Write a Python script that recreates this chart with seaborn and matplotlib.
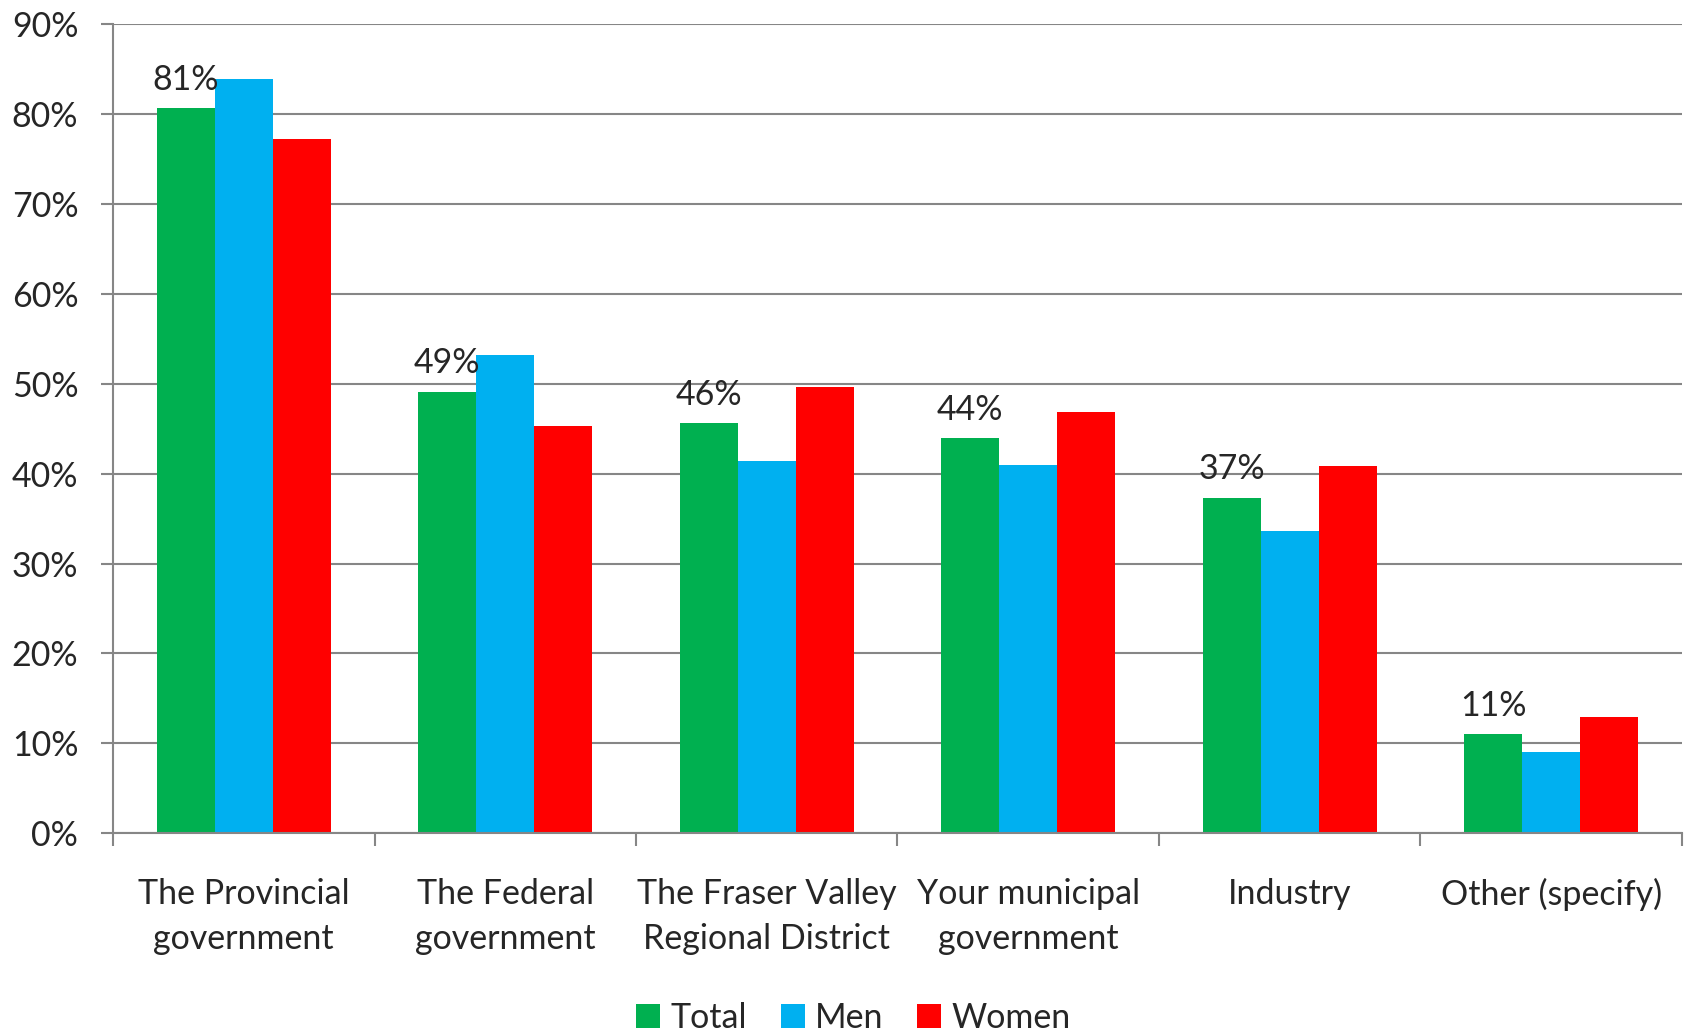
import pandas as pd
import numpy as np
import seaborn as sns
import matplotlib.pyplot as plt
from matplotlib.ticker import PercentFormatter, FixedLocator

# values (percent)
categories = ["The Provincial\ngovernment", "The Federal\ngovernment",
              "The Fraser Valley\nRegional District", "Your municipal\ngovernment",
              "Industry", "Other (specify)"]
total = [80.6, 49.1, 45.6, 43.9, 37.3, 11.0]
men = [83.9, 53.2, 41.4, 40.9, 33.6, 9.0]
women = [77.2, 45.3, 49.6, 46.8, 40.8, 12.9]
total_labels = ["81%", "49%", "46%", "44%", "37%", "11%"]

series = ["Total", "Men", "Women"]
colours = ["#00B050", "#00B0F0", "#FF0000"]

dados = pd.DataFrame({
    "Categoria": categories * 3,
    "Grupo": np.repeat(series, len(categories)),
    "Valor": total + men + women,
})

sns.set_style("white")
plt.rcParams["font.family"] = ["Lato", "DejaVu Sans"]
fs = 24.5

fig = plt.figure(figsize=(16.87, 10.34), dpi=100)
ax = fig.add_axes([0.067, 0.194, 0.930, 0.783])

sns.barplot(data=dados, x="Categoria", y="Valor", hue="Grupo",
            order=categories, hue_order=series, palette=colours,
            width=0.667, saturation=1, errorbar=None, ax=ax,
            linewidth=0)

cinza = "#868686"
ax.set_ylim(0, 90)
ax.set_xlim(-0.5, len(categories) - 0.5)
ax.set_yticks(np.arange(0, 91, 10))
ax.yaxis.set_major_formatter(PercentFormatter(decimals=0))
ax.yaxis.grid(True, color=cinza, linewidth=1.5)
ax.set_axisbelow(True)
for s in ["top", "right"]:
    ax.spines[s].set_visible(False)
for s in ["left", "bottom"]:
    ax.spines[s].set_color(cinza)
    ax.spines[s].set_linewidth(1.5)

ax.tick_params(axis="y", which="major", length=9, width=1.5, color=cinza,
               labelsize=fs, pad=16, left=True)
ax.tick_params(axis="x", which="major", length=0, labelsize=fs, pad=32)
ax.xaxis.set_minor_locator(FixedLocator(np.arange(-0.5, len(categories), 1)))
ax.tick_params(axis="x", which="minor", length=9, width=1.5, color=cinza,
               bottom=True)
ax.set_xlabel("")
ax.set_ylabel("")
for lbl in ax.get_xticklabels():
    lbl.set_linespacing(1.5)

# data labels only on the Total bars
barras_total = ax.containers[0]
for barra, texto in zip(barras_total, total_labels):
    ax.annotate(texto, (barra.get_x() + barra.get_width() / 2, barra.get_height()),
                xytext=(0, 9), textcoords="offset points",
                ha="center", va="bottom", fontsize=fs)

ax.legend(loc="center", bbox_to_anchor=(0.472, -0.228), ncol=3,
          frameon=False, fontsize=fs, handlelength=0.7, handleheight=0.7,
          handletextpad=0.3, columnspacing=1.0)

plt.savefig("out.png", dpi=100)
